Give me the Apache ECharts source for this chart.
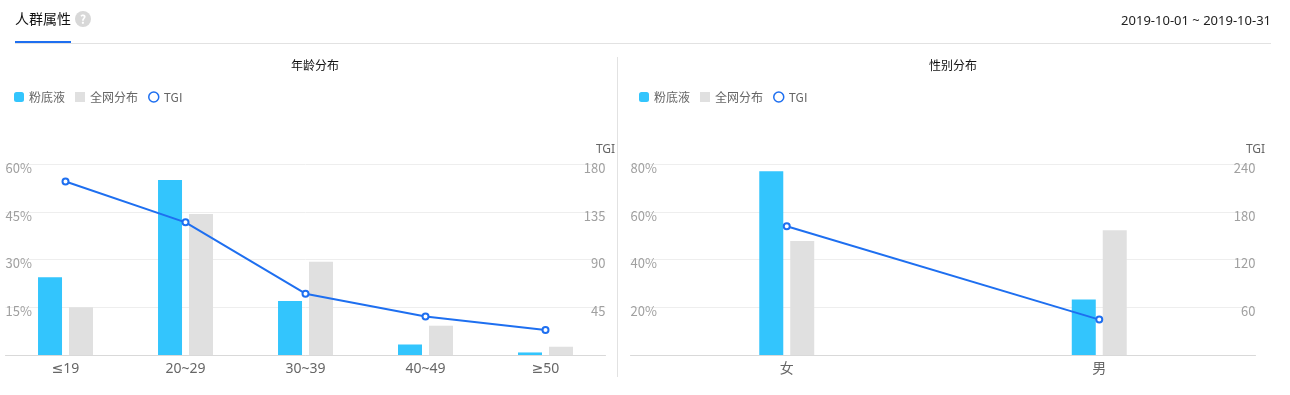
<!DOCTYPE html>
<html>
<head>
<meta charset="utf-8">
<title>人群属性</title>
<style>
  html, body { margin: 0; padding: 0; background: #fff; }
  #main { width: 1290px; height: 395px; }
</style>
<script src="https://cdn.jsdelivr.net/npm/echarts@6/dist/echarts.min.js"></script>
</head>
<body>
<div id="main"></div>
<script>
const ageCategories = ['≤19', '20~29', '30~39', '40~49', '≥50']
const ageBrand = [24.4, 55, 17, 3.3, 0.8]
const ageAll = [15, 44.3, 29.3, 9.2, 2.6]
const ageTgi = [163.5, 125, 57.8, 36.2, 23.5]

const genderCategories = ['女', '男']
const genderBrand = [77, 23.2]
const genderAll = [47.8, 52.2]
const genderTgi = [161.7, 44.5]

const seriesNames = ['粉底液', '全网分布', 'TGI']
const fontFamily = '"Noto Sans CJK SC", "Noto Sans", sans-serif'
const latinFont = '"Noto Sans", "DejaVu Sans", "Noto Sans CJK SC", sans-serif'
const blue = '#33c5fd'
const gray = '#e0e0e0'
const lineBlue = '#1e6ff0'

const chart = echarts.init(document.getElementById('main'))

const makeLegend = (left) => ({
  left: left,
  top: 86,
  itemWidth: 10,
  itemHeight: 10,
  itemGap: 10,
  selectedMode: false,
  textStyle: { color: '#666', fontSize: 12, fontFamily: fontFamily },
  data: [
    { name: seriesNames[0], icon: 'roundRect' },
    { name: seriesNames[1], icon: 'rect' },
    { name: seriesNames[2], icon: 'circle', itemStyle: { color: '#fff', borderColor: lineBlue, borderWidth: 1.5 } }
  ]
})

const makeValueAxis = (index, position, max, interval, suffix, name) => ({
  type: 'value',
  gridIndex: index,
  position: position,
  min: 0,
  max: max,
  interval: interval,
  name: name,
  nameLocation: 'end',
  nameGap: 8,
  nameTextStyle: { color: '#666', fontSize: 12, fontFamily: latinFont },
  axisLine: { show: false },
  axisTick: { show: false },
  splitLine: { show: position === 'left', lineStyle: { color: '#eee', width: 1 } },
  axisLabel: {
    inside: true,
    margin: 0,
    color: '#a0a0a0',
    fontSize: 13,
    fontFamily: fontFamily,
    verticalAlign: 'top',
    lineHeight: 8,
    formatter: (v) => v === 0 ? '' : v + suffix
  }
})

const makeCategoryAxis = (index, data) => ({
  type: 'category',
  gridIndex: index,
  data: data,
  axisLine: { lineStyle: { color: '#d9d9d9' } },
  axisTick: { show: false },
  axisLabel: { color: '#666', fontSize: 14, margin: 7, fontFamily: latinFont }
})

const makeSeries = (index, brand, all, tgi) => [
  { name: seriesNames[0], type: 'bar', xAxisIndex: index, yAxisIndex: index * 2, barWidth: 24, barGap: '29%', itemStyle: { color: blue }, data: brand },
  { name: seriesNames[1], type: 'bar', xAxisIndex: index, yAxisIndex: index * 2, barWidth: 24, barGap: '29%', itemStyle: { color: gray }, data: all },
  {
    name: seriesNames[2],
    type: 'line',
    xAxisIndex: index,
    yAxisIndex: index * 2 + 1,
    symbol: 'circle',
    symbolSize: 6,
    showSymbol: true,
    lineStyle: { color: lineBlue, width: 2 },
    itemStyle: { color: '#fff', borderColor: lineBlue, borderWidth: 2 },
    data: tgi
  }
]

const option = {
  animation: false,
  backgroundColor: '#fff',
  textStyle: { fontFamily: fontFamily },
  title: [
    { text: '年龄分布', left: 310, top: 54, textAlign: 'center', textStyle: { color: '#111', fontSize: 12, fontWeight: 'normal', fontFamily: fontFamily } },
    { text: '性别分布', left: 948, top: 54, textAlign: 'center', textStyle: { color: '#111', fontSize: 12, fontWeight: 'normal', fontFamily: fontFamily } }
  ],
  legend: [makeLegend(9), makeLegend(634)],
  grid: [
    { left: 5.5, top: 164, width: 600, height: 191 },
    { left: 630.5, top: 164, width: 625, height: 191 }
  ],
  xAxis: [makeCategoryAxis(0, ageCategories), makeCategoryAxis(1, genderCategories)],
  yAxis: [
    makeValueAxis(0, 'left', 60, 15, '%', ''),
    makeValueAxis(0, 'right', 180, 45, '', 'TGI'),
    makeValueAxis(1, 'left', 80, 20, '%', ''),
    makeValueAxis(1, 'right', 240, 60, '', 'TGI')
  ],
  series: [
    ...makeSeries(0, ageBrand, ageAll, ageTgi),
    ...makeSeries(1, genderBrand, genderAll, genderTgi)
  ],
  graphic: [
    { type: 'text', left: 15, top: 12, style: { text: '人群属性', fill: '#111', font: '14px ' + fontFamily } },
    { type: 'circle', shape: { cx: 83, cy: 19, r: 8 }, style: { fill: '#d8d8d8' } },
    { type: 'text', x: 83, y: 19, style: { text: '?', fill: '#fff', align: 'center', verticalAlign: 'middle', font: 'bold 12px ' + fontFamily } },
    { type: 'text', right: 19, top: 15, style: { text: '2019-10-01 ~ 2019-10-31', fill: '#222', font: '13px ' + latinFont } },
    { type: 'line', shape: { x1: 15, y1: 43.5, x2: 1271, y2: 43.5 }, style: { stroke: '#e2e2e2', lineWidth: 1 } },
    { type: 'rect', shape: { x: 15, y: 41, width: 56, height: 2 }, style: { fill: lineBlue } },
    { type: 'line', shape: { x1: 617.5, y1: 57, x2: 617.5, y2: 377 }, style: { stroke: '#e2e2e2', lineWidth: 1 } }
  ]
}

chart.setOption(option)
</script>
</body>
</html>
